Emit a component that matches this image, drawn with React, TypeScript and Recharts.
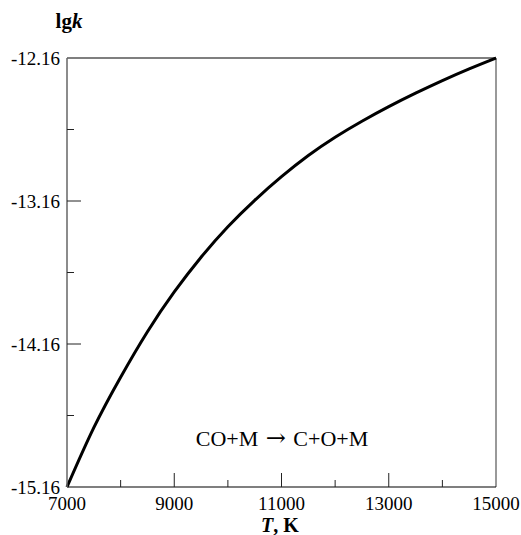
import { Line, LineChart, ReferenceLine, XAxis, YAxis } from "recharts";

// temperature, K
const temps = [
  7000, 7500, 8000, 8500, 9000, 9500, 10000, 10500, 11000, 11500, 12000, 12500, 13000, 13500,
  14000, 14500, 15000
];
// lg k
const lgk = [
  -15.16, -14.745, -14.392, -14.074, -13.796, -13.553, -13.34, -13.155, -12.99, -12.842, -12.714,
  -12.602, -12.5, -12.406, -12.318, -12.236, -12.16
];

const xTicks = [7000, 8000, 9000, 10000, 11000, 12000, 13000, 14000, 15000];
const xLabels = [7000, 9000, 11000, 13000, 15000];
const yTicks = [-15.16, -14.66, -14.16, -13.66, -13.16, -12.66, -12.16];
const yLabels = [-15.16, -14.16, -13.16, -12.16];

const data = temps.map((t, i) => ({ t, lgk: lgk[i] }));

const FONT = "'Liberation Serif', Tinos, 'Times New Roman', 'DejaVu Serif', serif";
const Y_MARGIN = 7;
const X_MARGIN = 10;

const near = (a: number, b: number) => Math.abs(a - b) < 1e-6;

function YTick(props: any) {
  const { x, y, payload } = props;
  const v = payload.value;
  const major = yLabels.some((l) => near(l, v));
  const edge = near(v, yTicks[0]) || near(v, yTicks[yTicks.length - 1]);
  const ax = x + Y_MARGIN;
  return (
    <g>
      {!edge && <line x1={ax} x2={ax + (major ? 14 : 7)} y1={y} y2={y} stroke="#222" />}
      {major && (
        <text x={x} y={y} dy="0.355em" textAnchor="end" fontFamily={FONT} fontSize={19} fill="#000">
          {v.toFixed(2)}
        </text>
      )}
    </g>
  );
}

function XTick(props: any) {
  const { x, y, payload } = props;
  const v = payload.value;
  const major = xLabels.includes(v);
  const edge = v === xTicks[0] || v === xTicks[xTicks.length - 1];
  const ay = y - X_MARGIN;
  return (
    <g>
      {!edge && <line x1={x} x2={x} y1={ay} y2={ay - (major ? 14 : 7)} stroke="#222" />}
      {major && (
        <text x={x} y={y} dy="0.71em" textAnchor="middle" fontFamily={FONT} fontSize={19} fill="#000">
          {v}
        </text>
      )}
    </g>
  );
}

export default function App() {
  return (
    <div style={{ position: "absolute", left: 0, top: 0, width: 521, height: 535, background: "#fff" }}>
      <LineChart width={521} height={535} data={data} margin={{ top: 58, right: 25, bottom: 8, left: 7 }}>
        <XAxis
          dataKey="t"
          type="number"
          domain={[7000, 15000]}
          ticks={xTicks}
          interval={0}
          height={40}
          tickSize={0}
          tickLine={false}
          tickMargin={X_MARGIN}
          axisLine={{ stroke: "#000", strokeWidth: 1.2 }}
          tick={<XTick />}
        />
        <YAxis
          type="number"
          domain={[-15.16, -12.16]}
          ticks={yTicks}
          interval={0}
          width={60}
          tickSize={0}
          tickLine={false}
          tickMargin={Y_MARGIN}
          axisLine={{ stroke: "#666", strokeWidth: 1.5 }}
          tick={<YTick />}
        />
        <ReferenceLine y={-12.16} stroke="#000" strokeWidth={1.2} ifOverflow="visible" />
        <ReferenceLine x={15000} stroke="#777" strokeWidth={1.5} ifOverflow="visible" />
        <Line
          type="natural"
          dataKey="lgk"
          stroke="#000"
          strokeWidth={3}
          dot={false}
          isAnimationActive={false}
        />
      </LineChart>
      <div
        style={{
          position: "absolute",
          left: 40,
          top: 9,
          width: 58,
          textAlign: "center",
          fontFamily: FONT,
          fontWeight: "bold",
          fontSize: 21,
          lineHeight: "24px"
        }}
      >
        lg<i>k</i>
      </div>
      <div
        style={{
          position: "absolute",
          left: 162,
          top: 425,
          width: 240,
          textAlign: "center",
          fontFamily: FONT,
          fontSize: 22,
          lineHeight: "26px",
          whiteSpace: "nowrap",
          wordSpacing: 2
        }}
      >
        CO+M <span style={{ fontFamily: "'DejaVu Serif', serif", fontSize: 24 }}>→</span> C+O+M
      </div>
      <div
        style={{
          position: "absolute",
          left: 230,
          top: 516,
          width: 100,
          textAlign: "center",
          fontFamily: FONT,
          fontWeight: "bold",
          fontSize: 20,
          lineHeight: "19px",
          whiteSpace: "nowrap"
        }}
      >
        <i>T</i>, K
      </div>
    </div>
  );
}
